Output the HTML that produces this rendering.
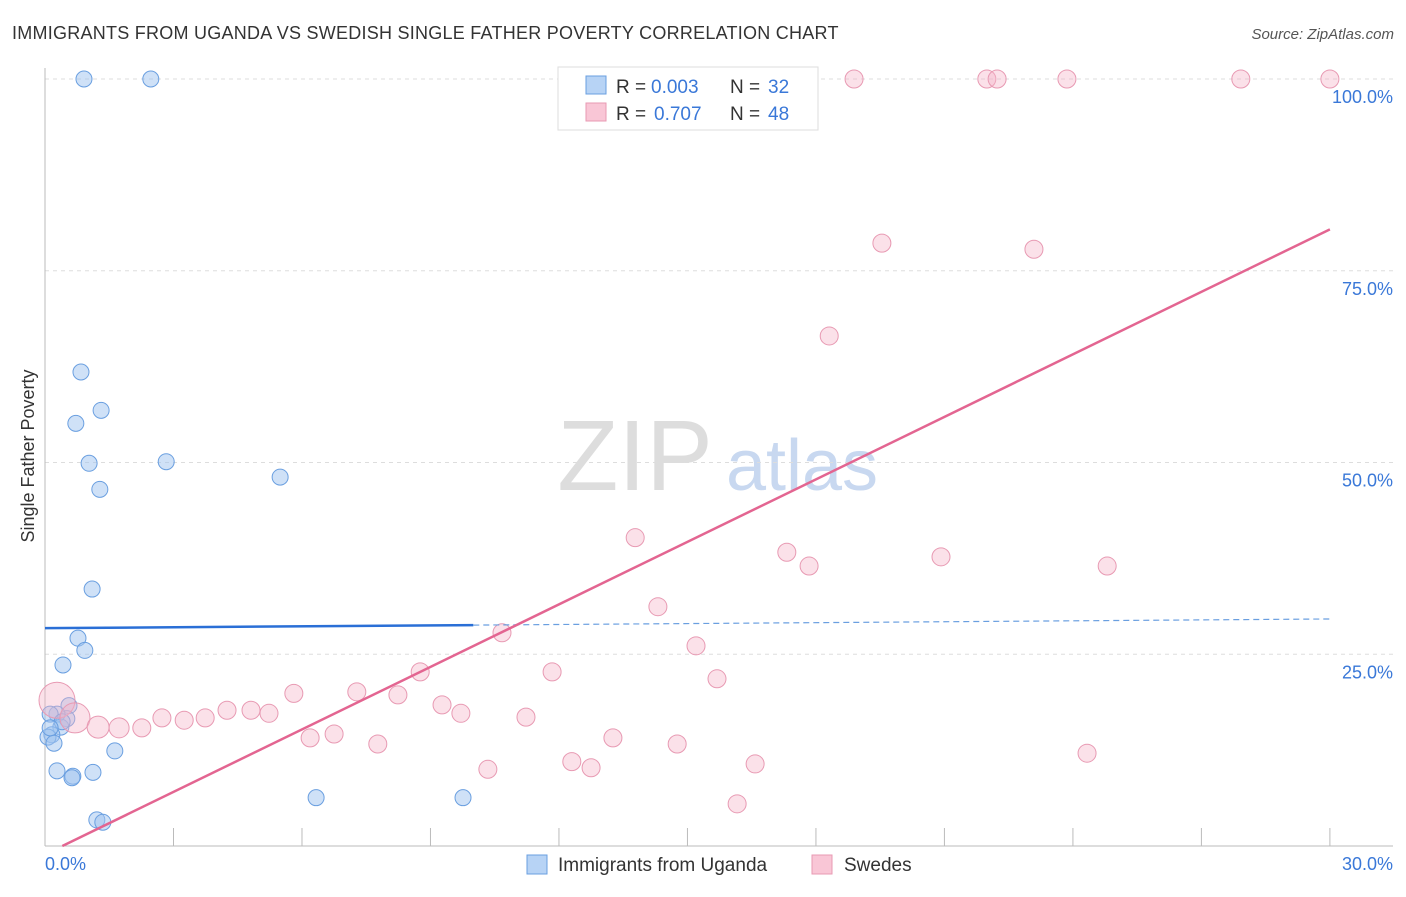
<!DOCTYPE html>
<html><head><meta charset="utf-8"><style>
body{margin:0;background:#fff;font-family:"Liberation Sans",sans-serif}
svg text{font-family:"Liberation Sans",sans-serif}
</style></head><body>
<svg width="1406" height="892" xmlns="http://www.w3.org/2000/svg">
<text x="12" y="39" font-size="18" fill="#333" letter-spacing="0.25">IMMIGRANTS FROM UGANDA VS SWEDISH SINGLE FATHER POVERTY CORRELATION CHART</text>
<text x="1394" y="39" font-size="15" fill="#555" font-style="italic" text-anchor="end">Source: ZipAtlas.com</text>
<g><text x="635" y="490" font-size="100" fill="#ddd" font-family="Liberation Serif" text-anchor="middle">ZIP</text><text x="802" y="490" font-size="72" fill="#c8d8f0" text-anchor="middle">atlas</text></g>
<g id="grid"></g><g id="axes"></g><g id="marks"></g>
<text transform="translate(34,456) rotate(-90)" font-size="18" fill="#333" text-anchor="middle">Single Father Poverty</text>
<text x="45" y="870" font-size="18" fill="#3a78d8">0.0%</text>
<text x="1393" y="870" font-size="18" fill="#3a78d8" text-anchor="end">30.0%</text>
<g>
<rect x="558" y="67" width="260" height="63" fill="#fff" stroke="#ddd"/>
<rect x="586" y="76" width="20" height="18" fill="#b7d3f5" stroke="#6a9fe0"/>
<rect x="586" y="103" width="20" height="18" fill="#f9c6d6" stroke="#e89ab3"/>
<text x="616" y="93" font-size="19" fill="#333">R =</text>
<text x="651" y="93" font-size="19" fill="#3a78d8">0.003</text>
<text x="730" y="93" font-size="19" fill="#333">N =</text>
<text x="768" y="93" font-size="19" fill="#3a78d8">32</text>
<text x="616" y="120" font-size="19" fill="#333">R =</text>
<text x="654" y="120" font-size="19" fill="#3a78d8">0.707</text>
<text x="730" y="120" font-size="19" fill="#333">N =</text>
<text x="768" y="120" font-size="19" fill="#3a78d8">48</text>
</g>
<g><rect x="527" y="855" width="20" height="19" fill="#b7d3f5" stroke="#6a9fe0"/><text x="558" y="871" font-size="19" fill="#333">Immigrants from Uganda</text></g>
<g><rect x="812" y="855" width="20" height="19" fill="#f9c6d6" stroke="#e89ab3"/><text x="844" y="871" font-size="19" fill="#333">Swedes</text></g>
</svg>
<script>
const yTicks=[25,50,75,100];
const yTickLabels=["25.0%","50.0%","75.0%","100.0%"];
const blueX=[0.91,2.47,0.84,1.31,0.72,1.03,2.83,1.28,5.49,1.10,0.77,0.93,0.42,0.56,0.51,0.28,0.12,0.37,0.16,0.07,0.21,1.63,0.28,1.12,0.65,0.63,6.33,9.76,1.21,1.35,0.40,0.12];
const blueY=[100,100,61.8,56.8,55.1,49.9,50.1,46.5,48.1,33.5,27.1,25.5,23.6,18.3,16.6,17.2,17.2,15.5,14.5,14.2,13.4,12.4,9.8,9.6,9.1,8.9,6.3,6.3,3.4,3.1,16.2,15.4];
const pinkX=[0.28,0.70,1.24,1.73,2.26,2.73,3.25,3.74,4.25,4.81,5.23,5.81,6.19,6.75,7.28,7.77,8.24,8.76,9.27,9.71,10.34,10.67,11.23,11.84,12.30,12.75,13.26,13.78,14.31,14.76,15.20,15.69,16.16,16.58,17.32,17.84,18.31,18.89,19.54,20.92,21.99,22.23,23.09,23.86,24.33,24.80,27.92,30];
const pinkY=[19.0,16.7,15.5,15.4,15.4,16.7,16.4,16.7,17.7,17.7,17.3,19.9,14.1,14.6,20.1,13.3,19.7,22.7,18.4,17.3,10.0,27.8,16.8,22.7,11.0,10.2,14.1,40.2,31.2,13.3,26.1,21.8,5.5,10.7,38.3,36.5,66.5,100,78.6,37.7,100,100,77.8,100,12.1,36.5,100,100];
const pinkSize=[18,15,11,10,9,9,9,9,9,9,9,9,9,9,9,9,9,9,9,9,9,9,9,9,9,9,9,9,9,9,9,9,9,9,9,9,9,9,9,9,9,9,9,9,9,9,9,9];
const blueTrend=[28.4,29.6];
const pinkTrend=[-1.1,80.4];
const X=v=>45+v*42.83, Y=v=>846-v*7.67;
const NS="http://www.w3.org/2000/svg";
function mk(p,t,a){const e=document.createElementNS(NS,t);for(const k in a)e.setAttribute(k,a[k]);p.appendChild(e);return e;}
const grid=document.getElementById('grid'),axes=document.getElementById('axes'),marks=document.getElementById('marks');
yTicks.forEach((t,i)=>{
 const l=mk(grid,'line',{x1:45,x2:1393,y1:Y(t),y2:Y(t),stroke:'#ddd','stroke-dasharray':'4,4'});
 
 
 const tx=mk(grid,'text',{x:1393,y:Y(t)+24,'font-size':18,fill:'#3a78d8','text-anchor':'end'});
 tx.textContent=yTickLabels[i];
 
 
});
mk(axes,'line',{x1:45,x2:45,y1:68,y2:846,stroke:'#bbb'});
mk(axes,'line',{x1:45,x2:1393,y1:846,y2:846,stroke:'#bbb'});
for(let i=1;i<=10;i++){const t=mk(axes,'line',{x1:X(i*3),x2:X(i*3),y1:828,y2:846,stroke:'#bbb'});
 
 }
blueX.forEach((x,i)=>{const c=mk(marks,'circle',{cx:X(x),cy:Y(blueY[i]),r:8,fill:'rgba(160,196,240,0.5)',stroke:'#6a9fe0','stroke-width':1});
 
 });
pinkX.forEach((x,i)=>{const c=mk(marks,'circle',{cx:X(x),cy:Y(pinkY[i]),r:pinkSize[i],fill:'rgba(245,180,200,0.4)',stroke:'#e89ab3','stroke-width':1});
 
 });
const bs=(blueTrend[1]-blueTrend[0])/30;
const b1=mk(marks,'line',{x1:X(0),y1:Y(blueTrend[0]),x2:X(10),y2:Y(blueTrend[0]+bs*10),stroke:'#2a6fd6','stroke-width':2.5});


const b2=mk(marks,'line',{x1:X(10),y1:Y(blueTrend[0]+bs*10),x2:X(30),y2:Y(blueTrend[1]),stroke:'#6a9fe0','stroke-width':1.2,'stroke-dasharray':'6,4'});


const ps=(pinkTrend[1]-pinkTrend[0])/30, x0=-pinkTrend[0]/ps;
const p1=mk(marks,'line',{x1:X(x0),y1:Y(0),x2:X(30),y2:Y(pinkTrend[1]),stroke:'#e36591','stroke-width':2.5});


</script>
</body></html>
